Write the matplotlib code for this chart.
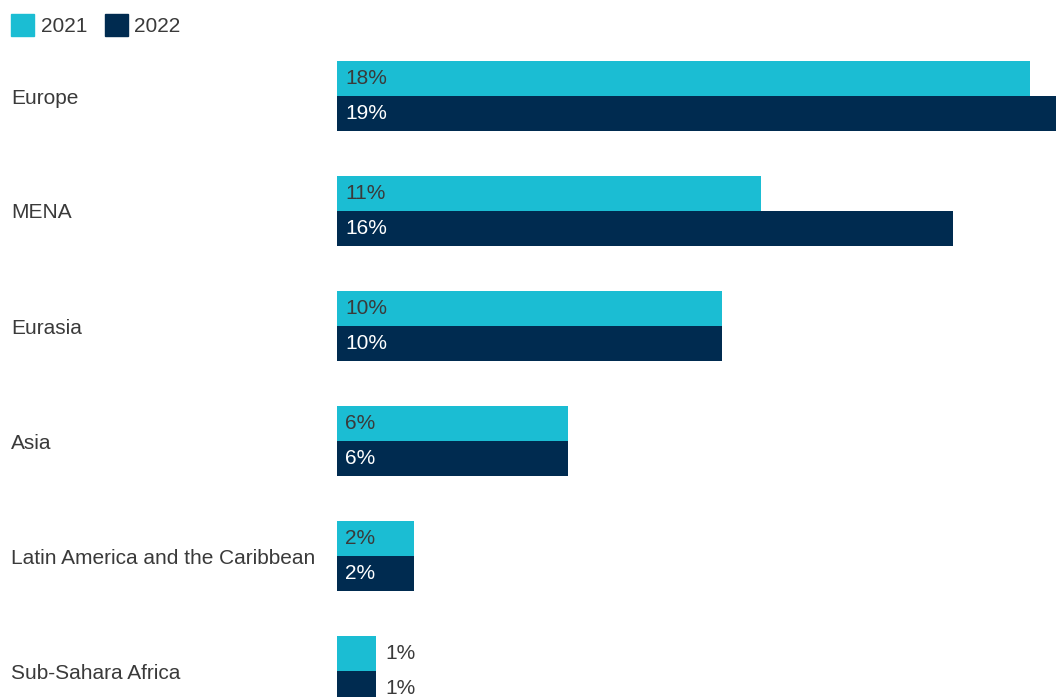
import matplotlib.pyplot as plt
import matplotlib.transforms as mtransforms
from matplotlib.patches import Patch

plt.rcParams['font.family'] = ['Liberation Sans', 'DejaVu Sans']

regions = ['Europe', 'MENA', 'Eurasia', 'Asia', 'Latin America and the Caribbean', 'Sub-Sahara Africa']
share_2021 = [18, 11, 10, 6, 2, 1]
share_2022 = [19, 16, 10, 6, 2, 1]

c2021 = '#1bbdd3'
c2022 = '#002b50'
text_dark = '#3a3a3a'
fs = 15

W, H = 1056, 697
fig = plt.figure(figsize=(W / 100, H / 100), dpi=100)
ax = fig.add_axes([337 / W, 0, 1 - 337 / W, 1])

bar_h = 35 / 115
ys = list(range(len(regions)))
ax.barh([y - bar_h / 2 for y in ys], share_2021, height=bar_h, color=c2021, label='2021')
ax.barh([y + bar_h / 2 for y in ys], share_2022, height=bar_h, color=c2022, label='2022')

ax.set_xlim(0, 719 / 38.5)
ax.set_ylim((H - 96) / 115, -96 / 115)
ax.axis('off')

# value labels: inside the bar when it fits, otherwise just past its end
px_per_unit = 38.5
for y, v21, v22 in zip(ys, share_2021, share_2022):
    for val, yy, inside_col in ((v21, y - bar_h / 2, text_dark), (v22, y + bar_h / 2, 'white')):
        if val * px_per_unit > 60:
            ax.text(8 / px_per_unit, yy, f'{val}%', va='center', ha='left',
                    fontsize=fs, color=inside_col)
        else:
            ax.text(val + 10 / px_per_unit, yy, f'{val}%', va='center', ha='left',
                    fontsize=fs, color=text_dark)

# category names at the left edge of the figure
trans = mtransforms.blended_transform_factory(fig.transFigure, ax.transData)
for y, name in zip(ys, regions):
    ax.text(11 / W, y + 2 / 115, name, transform=trans, va='center', ha='left',
            fontsize=fs, color=text_dark, clip_on=False)

handles = [Patch(color=c2021, label='2021'), Patch(color=c2022, label='2022')]
fig.legend(handles=handles, loc='upper left', bbox_to_anchor=(0.0, 0.997), ncol=2,
           frameon=False, fontsize=fs, handlelength=1.1, handleheight=1.3,
           handletextpad=0.3, columnspacing=0.85, borderaxespad=0.2,
           borderpad=0.35, labelcolor=text_dark)

fig.savefig('out.png', dpi=100)
